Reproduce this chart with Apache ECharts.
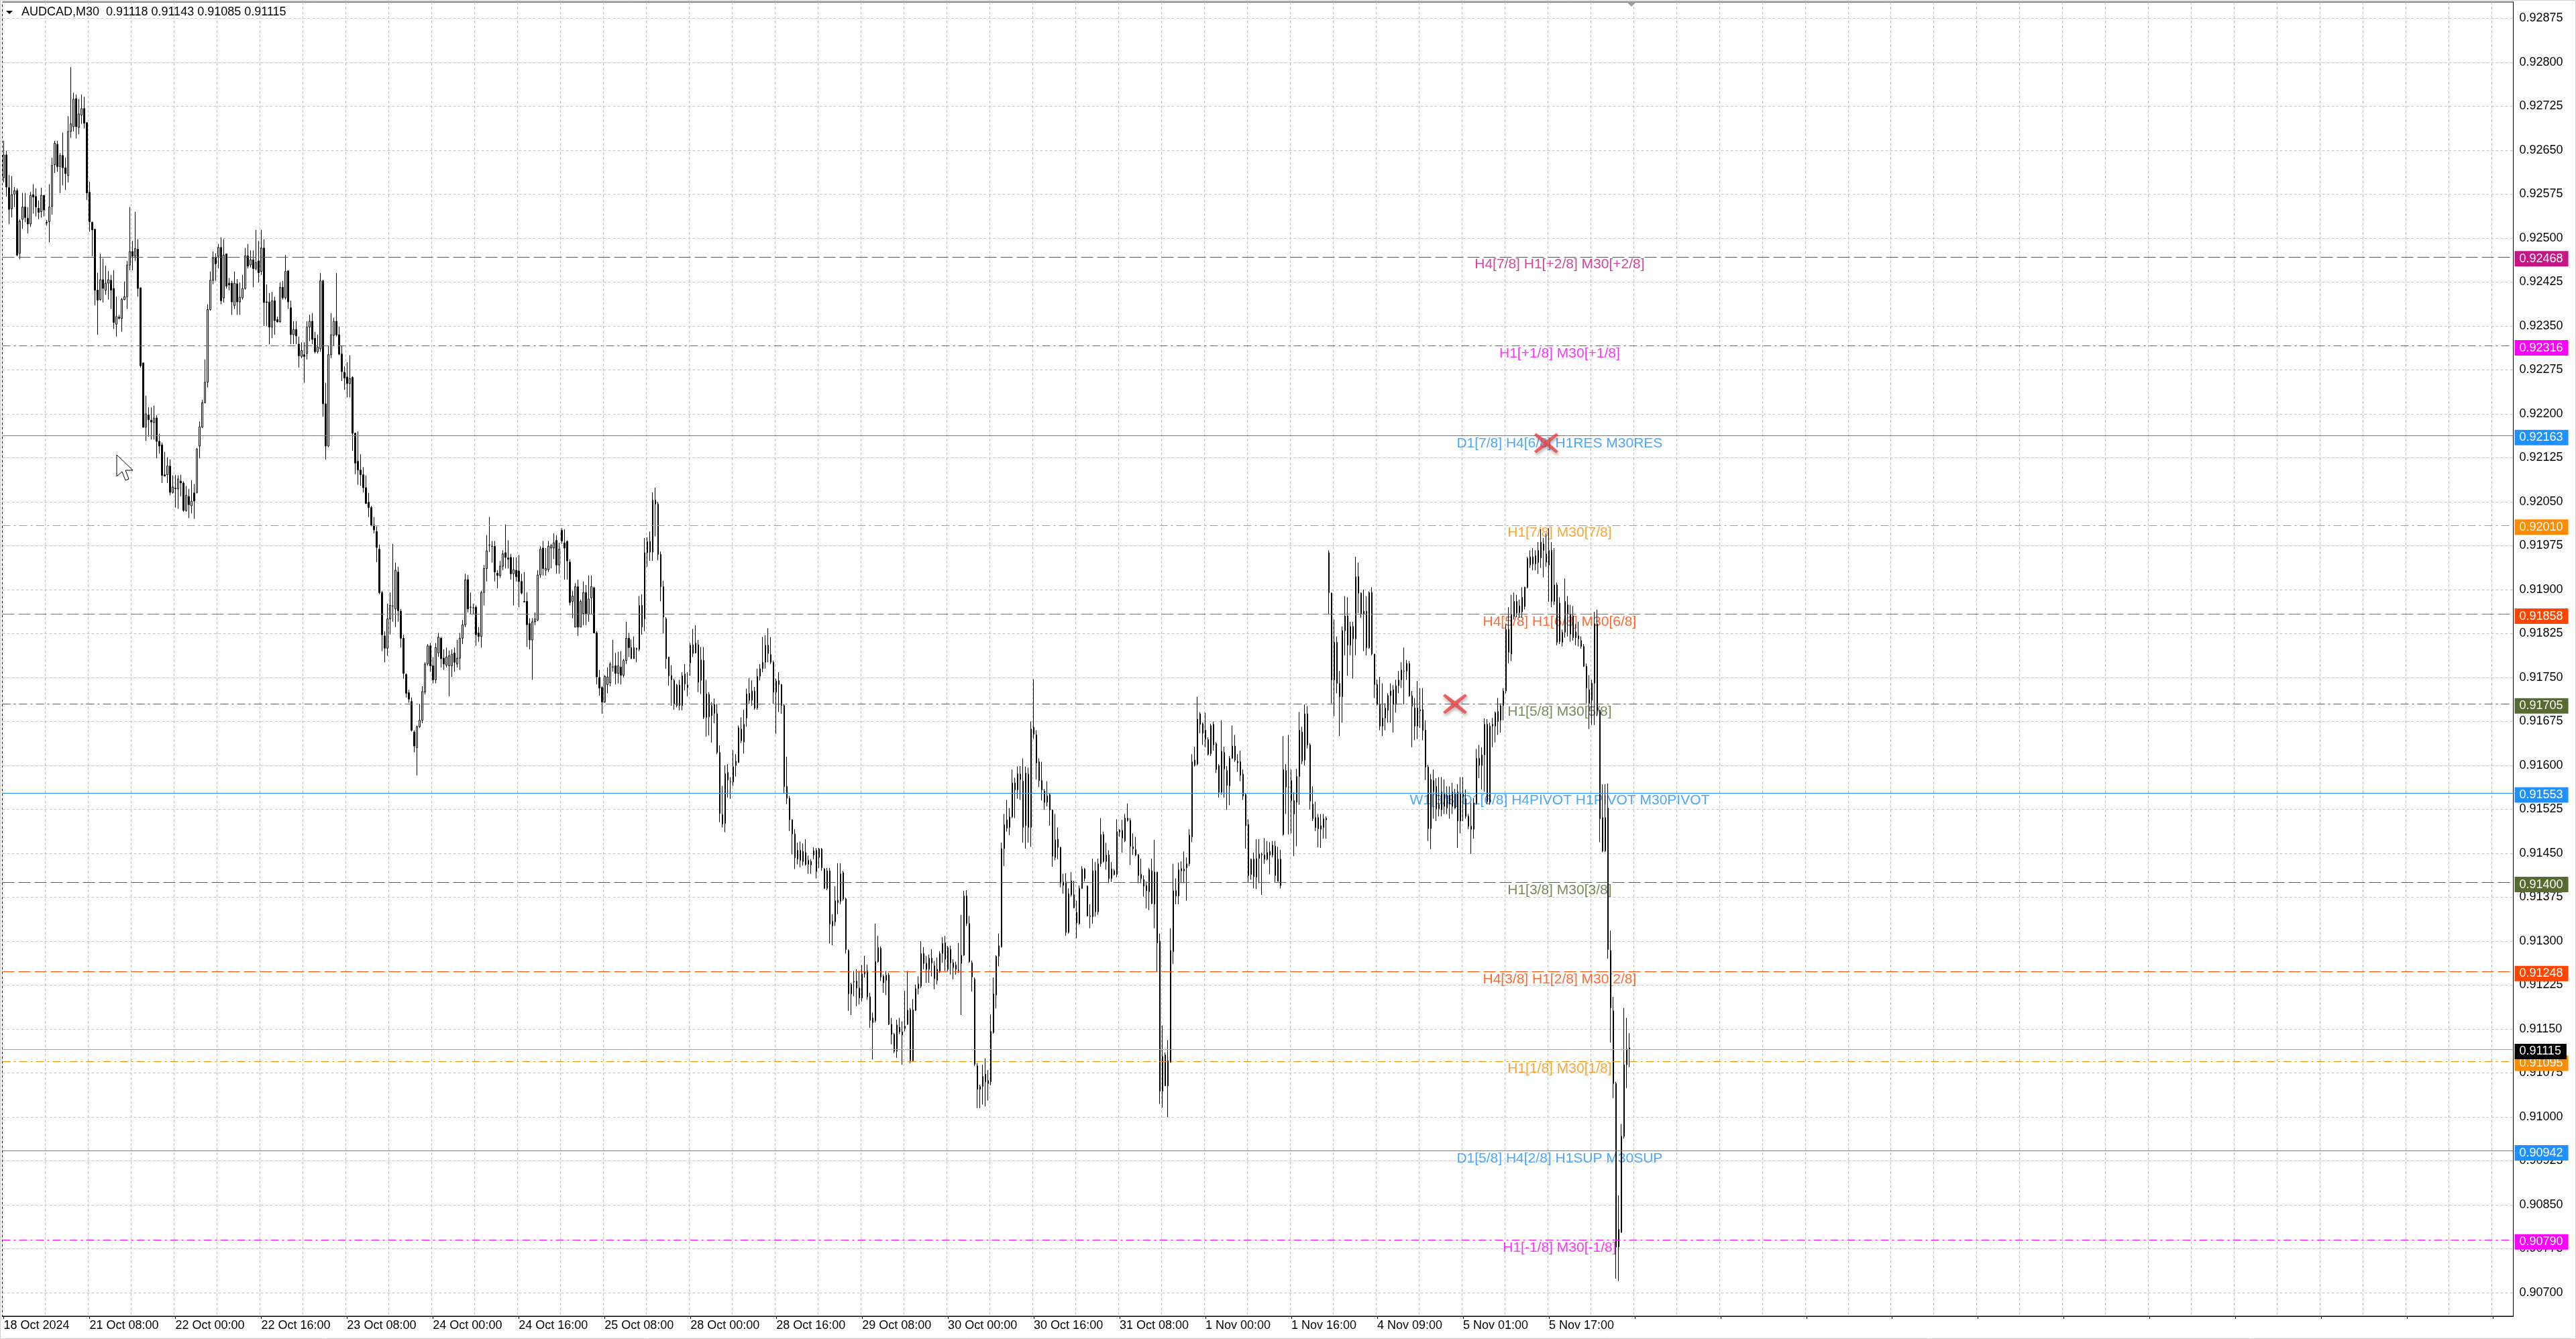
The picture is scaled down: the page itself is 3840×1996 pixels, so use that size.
<!DOCTYPE html>
<html><head><meta charset="utf-8">
<script src="https://cdn.jsdelivr.net/npm/echarts@6/dist/echarts.min.js"></script>
<style>html,body{margin:0;padding:0;background:#fff}#c{width:3840px;height:1996px}</style>
</head><body><div id="c"></div>
<script>
const SYMBOL = 'AUDCAD,M30';
const POINT = 1e-5; // prices below are stored in points: 92603 -> 0.92603
// Each bar: [open, high, low, close]
const fri18Oct = [
[92603,92666,92595,92642],[92642,92649,92571,92587],[92586,92608,92524,92549],[92550,92606,92535,92574],
[92575,92587,92553,92581],[92581,92585,92469,92471],[92474,92532,92464,92529],[92532,92577,92516,92553],
[92553,92577,92527,92535],[92534,92553,92508,92524],[92524,92579,92519,92573],[92574,92592,92542,92570],
[92571,92585,92537,92553],[92551,92564,92532,92544],[92545,92586,92535,92573],[92573,92573,92537,92548]];
const mon21Oct = [
[92527,92531,92521,92526],[92528,92592,92493,92553],[92554,92637,92540,92624],[92625,92666,92611,92662],
[92660,92666,92613,92622],[92622,92645,92577,92641],[92641,92680,92590,92620],[92620,92637,92582,92610],
[92607,92708,92595,92682],[92682,92792,92671,92695],[92690,92748,92682,92737],[92738,92745,92670,92690],
[92689,92737,92677,92712],[92710,92745,92695,92721],[92721,92741,92687,92696],[92697,92698,92565,92577],
[92578,92596,92511,92528],[92527,92528,92469,92514],[92515,92516,92385,92411],[92411,92441,92335,92394],
[92395,92473,92393,92429],[92429,92465,92390,92414],[92411,92453,92403,92423],[92423,92444,92395,92429],
[92428,92437,92379,92411],[92414,92445,92345,92356],[92353,92400,92332,92366],[92365,92369,92361,92363],
[92363,92398,92340,92395],[92395,92426,92394,92400],[92400,92461,92379,92454],[92454,92553,92445,92477],
[92477,92495,92445,92469],[92469,92545,92461,92482],[92481,92498,92400,92414],[92415,92416,92279,92282],
[92287,92287,92177,92177],[92177,92231,92154,92200],[92198,92211,92161,92190],[92189,92211,92156,92186],
[92185,92214,92156,92193],[92193,92198,92124,92153],[92153,92166,92132,92145],[92147,92151,92082,92095],
[92096,92135,92093,92094],[92096,92126,92082,92111],[92111,92122,92061,92066],[92066,92095,92064,92075]];
const tue22Oct = [
[92073,92096,92040,92072],[92072,92095,92038,92089],[92085,92096,92059,92082],[92082,92085,92033,92035],
[92035,92077,92033,92061],[92059,92072,92022,92045],[92043,92087,92030,92051],[92065,92080,92021,92051],
[92066,92142,92064,92140],[92145,92187,92124,92178],[92177,92224,92176,92219],[92219,92293,92218,92254],
[92254,92387,92245,92378],[92378,92443,92376,92428],[92428,92477,92421,92466],[92466,92474,92427,92456],
[92469,92490,92448,92484],[92484,92501,92387,92393],[92398,92498,92390,92471],[92473,92473,92414,92418],
[92423,92432,92411,92420],[92423,92427,92369,92391],[92385,92443,92379,92423],[92422,92430,92369,92391],
[92391,92424,92369,92399],[92398,92437,92395,92414],[92414,92483,92412,92470],[92470,92490,92448,92452],
[92454,92479,92450,92463],[92463,92479,92416,92448],[92448,92514,92445,92458],[92461,92495,92424,92441],
[92443,92514,92437,92483],[92483,92498,92350,92390],[92391,92421,92350,92390],[92391,92406,92319,92348],
[92348,92408,92329,92393],[92393,92400,92335,92359],[92361,92366,92356,92357],[92357,92424,92356,92416],
[92416,92427,92395,92398],[92398,92471,92395,92443],[92444,92445,92379,92391],[92381,92393,92319,92335],
[92335,92358,92319,92344],[92344,92358,92319,92333],[92319,92332,92279,92299],[92298,92322,92295,92308]];
const wed23Oct = [
[92301,92322,92253,92298],[92303,92358,92293,92348],[92348,92369,92324,92358],[92358,92372,92319,92327],
[92329,92340,92303,92306],[92306,92335,92303,92314],[92311,92440,92306,92427],[92427,92429,92195,92217],
[92217,92253,92122,92145],[92145,92316,92143,92301],[92301,92372,92295,92335],[92334,92364,92316,92358],
[92358,92440,92332,92335],[92335,92349,92300,92302],[92302,92316,92256,92272],[92271,92281,92241,92261],
[92263,92288,92228,92252],[92252,92300,92228,92260],[92262,92264,92137,92167],[92167,92168,92097,92116],
[92119,92170,92079,92104],[92104,92131,92077,92096],[92096,92109,92066,92074],[92074,92095,92046,92047],
[92049,92065,92024,92040],[92040,92043,92008,92010],[92010,92024,91996,92002],[91999,92008,91947,91972],
[91969,91977,91892,91895],[91895,91898,91795,91823],[91821,91829,91776,91800],[91800,91876,91787,91850],
[91850,91895,91823,91873],[91872,91978,91845,91872],[91867,91946,91836,91933],[91930,91939,91845,91864],
[91863,91867,91801,91817],[91817,91823,91748,91757],[91755,91757,91716,91723],[91724,91729,91707,91713],
[91709,91716,91658,91660],[91657,91660,91622,91633],[91630,91668,91583,91666],[91666,91705,91664,91677],
[91677,91735,91672,91726],[91725,91776,91721,91773],[91773,91807,91770,91804],[91804,91809,91760,91770]];
const thu24Oct = [
[91770,91785,91740,91746],[91746,91809,91740,91801],[91792,91826,91785,91819],[91817,91819,91767,91782],
[91783,91798,91763,91773],[91771,91801,91767,91785],[91770,91796,91718,91787],[91770,91798,91751,91790],
[91792,91801,91760,91776],[91773,91814,91767,91783],[91783,91826,91763,91817],[91817,91848,91807,91840],
[91840,91927,91836,91917],[91917,91925,91861,91867],[91870,91895,91858,91870],[91869,91876,91858,91869],
[91870,91873,91804,91823],[91826,91836,91811,91820],[91820,91898,91801,91895],[91895,91942,91873,91936],
[91936,91993,91914,91966],[91976,92024,91964,91976],[91974,91983,91946,91974],[91974,91983,91914,91930],
[91928,91933,91902,91924],[91924,91949,91920,91940],[91940,91967,91933,91961],[91963,92011,91936,91955],
[91954,91984,91936,91952],[91955,91961,91917,91927],[91927,91955,91873,91934],[91933,91955,91914,91922],
[91932,91959,91870,91914],[91914,91927,91892,91894],[91880,91930,91878,91879],[91880,91895,91802,91840],
[91842,91851,91798,91814],[91814,91851,91746,91845],[91845,91861,91839,91850],[91848,91933,91846,91925],
[91925,91974,91920,91969],[91971,91983,91924,91936],[91933,91971,91924,91936],[91934,91983,91930,91974],
[91971,91978,91936,91975],[91971,91996,91952,91980],[91984,91993,91927,91942],[91942,91980,91927,91969]];
const fri25Oct = [
[92001,92005,91978,91983],[91980,92003,91917,91971],[91982,91984,91917,91949],[91947,91952,91873,91878],
[91880,91898,91851,91889],[91836,91911,91836,91905],[91905,91917,91821,91836],[91836,91883,91836,91880],
[91859,91914,91839,91895],[91895,91908,91839,91858],[91858,91924,91845,91884],[91886,91924,91858,91905],
[91903,91905,91826,91826],[91826,91829,91738,91751],[91750,91763,91719,91732],[91733,91735,91688,91708],
[91708,91754,91707,91752],[91738,91767,91723,91751],[91741,91776,91735,91773],[91768,91814,91760,91768],
[91770,91792,91738,91757],[91757,91794,91740,91770],[91768,91795,91738,91754],[91754,91782,91750,91779],
[91779,91845,91773,91817],[91817,91826,91785,91801],[91801,91815,91782,91782],[91782,91820,91782,91801],
[91798,91801,91776,91800],[91798,91889,91795,91873],[91873,91892,91823,91836],[91850,91988,91829,91963],
[91963,91989,91939,91982],[91982,91999,91949,91964],[91964,92066,91949,92053],[92053,92074,91991,92046],
[92046,92050,91950,91960],[91960,91965,91880,91905],[91905,91915,91825,91853],[91850,91853,91765,91782],
[91785,91785,91736,91753],[91753,91771,91702,91746],[91745,91748,91695,91705],[91702,91739,91699,91737],
[91737,91746,91694,91702],[91702,91759,91694,91753],[91756,91773,91728,91739],[91737,91759,91718,91733]];
const mon28Oct = [
[91775,91809,91753,91805],[91791,91833,91785,91806],[91792,91839,91791,91809],[91806,91814,91725,91742],
[91745,91802,91722,91780],[91779,91802,91679,91682],[91682,91746,91649,91722],[91721,91725,91651,91683],
[91685,91708,91639,91702],[91704,91714,91672,91689],[91688,91705,91619,91622],[91622,91634,91503,91518],
[91516,91565,91494,91500],[91501,91600,91486,91586],[91588,91602,91545,91575],[91572,91580,91543,91572],
[91572,91626,91565,91598],[91600,91619,91581,91607],[91605,91668,91604,91664],[91662,91682,91638,91642],
[91640,91695,91620,91670],[91681,91731,91666,91722],[91723,91749,91705,91711],[91711,91745,91702,91727],
[91727,91734,91695,91698],[91698,91765,91695,91752],[91752,91773,91745,91765],[91765,91819,91759,91776],
[91776,91822,91765,91805],[91805,91834,91776,91791],[91789,91819,91773,91776],[91776,91779,91705,91725],
[91725,91748,91654,91744],[91745,91759,91691,91738],[91738,91739,91688,91702],[91702,91705,91552,91564],
[91564,91615,91534,91544],[91544,91548,91488,91507],[91507,91508,91448,91483],[91483,91491,91423,91442],
[91440,91468,91431,91455],[91455,91470,91426,91438],[91453,91467,91429,91436],[91451,91474,91429,91431],
[91431,91446,91415,91438],[91436,91440,91415,91430],[91454,91460,91440,91447],[91455,91459,91407,91419]];
const tue29Oct = [
[91443,91459,91425,91457],[91457,91459,91420,91425],[91423,91425,91389,91390],[91390,91425,91387,91420],
[91420,91425,91296,91329],[91326,91346,91293,91334],[91333,91394,91326,91369],[91370,91433,91346,91366],
[91368,91433,91363,91415],[91417,91420,91369,91372],[91372,91374,91279,91286],[91284,91286,91181,91210],
[91210,91229,91174,91226],[91230,91249,91206,91231],[91232,91252,91189,91220],[91220,91249,91192,91203],
[91203,91259,91197,91244],[91244,91275,91238,91248],[91249,91260,91200,91205],[91205,91212,91152,91165],
[91169,91178,91098,91161],[91164,91330,91161,91265],[91265,91309,91263,91289],[91288,91291,91232,91239],
[91240,91243,91212,91229],[91233,91249,91208,91242],[91242,91246,91157,91158],[91158,91169,91124,91141],
[91141,91143,91109,91112],[91112,91166,91101,91157],[91153,91169,91141,91145],[91145,91163,91089,91140],
[91151,91215,91146,91155],[91158,91249,91157,91182],[91183,91186,91092,91096],[91096,91201,91095,91183],
[91182,91226,91181,91219],[91219,91240,91209,91227],[91223,91300,91220,91279],[91279,91290,91252,91262],
[91262,91275,91229,91252],[91252,91277,91229,91271],[91271,91286,91240,91263],[91258,91266,91218,91236],
[91233,91272,91226,91252],[91249,91283,91246,91279],[91279,91307,91263,91296],[91297,91309,91249,91269]];
const wed30Oct = [
[91252,91292,91249,91289],[91286,91292,91243,91263],[91263,91269,91235,91255],[91259,91265,91243,91252],
[91250,91297,91246,91250],[91262,91345,91174,91276],[91276,91386,91275,91377],[91377,91387,91326,91330],
[91330,91343,91263,91265],[91263,91267,91214,91239],[91235,91238,91087,91090],[91087,91092,91015,91047],
[91047,91055,91015,91052],[91052,91089,91021,91069],[91073,91100,91018,91060],[91062,91080,91028,91057],
[91060,91175,91054,91146],[91144,91238,91142,91210],[91208,91276,91185,91274],[91274,91313,91257,91292],
[91290,91468,91289,91458],[91458,91517,91428,91499],[91507,91541,91487,91493],[91494,91527,91481,91512],
[91512,91593,91510,91570],[91570,91579,91510,91558],[91558,91598,91543,91586],[91576,91599,91541,91585],
[91573,91612,91468,91494],[91497,91598,91458,91587],[91585,91596,91468,91494],[91494,91675,91461,91662],
[91665,91747,91645,91653],[91652,91660,91576,91604],[91606,91612,91563,91574],[91574,91606,91540,91558],
[91556,91560,91524,91537],[91537,91573,91530,91548],[91550,91553,91497,91524],[91524,91524,91427,91445],
[91443,91517,91438,91473],[91474,91494,91440,91460],[91460,91461,91392,91399],[91395,91415,91381,91401],
[91401,91416,91309,91315],[91315,91390,91313,91381],[91403,91418,91376,91379],[91379,91403,91356,91357]];
const thu31Oct = [
[91349,91369,91305,91331],[91330,91395,91328,91390],[91390,91428,91389,91423],[91423,91425,91402,91407],
[91394,91395,91342,91343],[91342,91363,91322,91343],[91342,91441,91330,91420],[91420,91435,91342,91350],
[91350,91441,91345,91432],[91432,91510,91427,91482],[91482,91487,91434,91436],[91436,91468,91422,91447],
[91447,91455,91399,91407],[91407,91435,91401,91423],[91420,91423,91412,91414],[91414,91508,91409,91487],
[91486,91491,91478,91489],[91489,91507,91451,91476],[91471,91517,91469,91510],[91510,91535,91504,91506],
[91506,91510,91430,91462],[91461,91484,91447,91458],[91456,91478,91445,91447],[91447,91449,91399,91412],
[91414,91441,91399,91407],[91405,91412,91376,91394],[91395,91402,91356,91386],[91384,91425,91353,91422],
[91420,91441,91363,91364],[91363,91473,91322,91418],[91418,91418,91248,91297],[91300,91313,91022,91044],
[91044,91156,91016,91103],[91106,91110,91053,91053],[91053,91131,91000,91096],[91093,91322,91093,91284],
[91282,91432,91261,91386],[91386,91407,91363,91377],[91377,91434,91363,91422],[91420,91436,91400,91424],
[91420,91453,91399,91423],[91425,91443,91369,91432],[91432,91491,91428,91481],[91478,91619,91469,91606],
[91600,91632,91598,91609],[91602,91717,91600,91679],[91688,91691,91655,91670],[91671,91673,91635,91655]];
const fri1Nov = [
[91660,91690,91631,91645],[91644,91648,91617,91619],[91620,91671,91616,91668],[91670,91675,91625,91635],
[91637,91640,91587,91593],[91599,91602,91545,91554],[91554,91677,91550,91624],[91622,91632,91545,91594],
[91591,91599,91524,91566],[91565,91616,91532,91612],[91612,91668,91611,91633],[91633,91652,91606,91609],
[91604,91619,91589,91607],[91606,91625,91573,91583],[91585,91593,91541,91548],[91550,91553,91458,91497],
[91499,91508,91401,91412],[91414,91441,91405,91440],[91440,91451,91390,91410],[91409,91474,91389,91441],
[91441,91474,91399,91449],[91447,91451,91379,91448],[91447,91476,91432,91440],[91440,91471,91438,91451],
[91453,91469,91414,91447],[91447,91471,91443,91464],[91462,91471,91401,91412],[91402,91461,91402,91440],
[91440,91456,91390,91395],[91482,91650,91480,91593],[91591,91602,91517,91563],[91563,91652,91482,91563],
[91574,91593,91484,91540],[91540,91554,91445,91517],[91537,91594,91462,91581],[91581,91691,91533,91660],
[91657,91666,91602,91607],[91609,91704,91600,91688],[91688,91701,91629,91635],[91635,91638,91525,91539],
[91534,91564,91505,91509],[91511,91538,91488,91494],[91511,91517,91460,91492],[91491,91517,91459,91497],
[91494,91517,91475,91509],[91507,91513,91475,91510]];
const mon4Nov = [
[91963,91967,91858,91895],[91894,91895,91706,91746],[91746,91849,91684,91810],[91810,91820,91723,91740],
[91740,91761,91650,91717],[91717,91837,91673,91830],[91830,91889,91788,91855],[91855,91887,91753,91805],
[91805,91845,91788,91837],[91837,91845,91748,91816],[91816,91956,91788,91922],[91922,91946,91860,91894],
[91894,91895,91852,91858],[91858,91900,91795,91863],[91863,91889,91788,91801],[91801,91897,91799,91895],
[91895,91904,91788,91790],[91790,91790,91715,91738],[91738,91746,91702,91704],[91704,91751,91660,91667],
[91667,91740,91650,91681],[91681,91706,91660,91698],[91694,91723,91673,91719],[91719,91740,91673,91727],
[91729,91737,91656,91704],[91704,91746,91690,91736],[91736,91761,91723,91746],[91746,91776,91732,91763],
[91761,91801,91704,91761],[91761,91780,91746,91774],[91774,91778,91717,91719],[91719,91727,91631,91701],
[91698,91715,91643,91667],[91667,91744,91645,91698],[91693,91732,91664,91695],[91695,91732,91643,91660],
[91660,91677,91575,91597],[91597,91601,91471,91492],[91492,91585,91457,91576],[91574,91593,91509,91555],
[91564,91578,91505,91526],[91526,91580,91513,91533],[91524,91580,91513,91555],[91551,91576,91517,91530],
[91527,91564,91517,91549],[91549,91564,91509,91534],[91530,91570,91517,91555],[91527,91560,91526,91553]];
const tue5Nov = [
[91555,91568,91459,91505],[91505,91580,91484,91553],[91547,91580,91505,91551],[91543,91559,91509,91513],
[91513,91517,91491,91496],[91496,91536,91449,91491],[91491,91544,91475,91536],[91536,91628,91533,91612],
[91612,91635,91578,91600],[91600,91631,91559,91618],[91618,91680,91555,91670],[91670,91679,91534,91538],
[91538,91673,91533,91667],[91667,91681,91631,91670],[91667,91692,91639,91690],[91692,91715,91652,91675],
[91677,91706,91656,91702],[91702,91732,91677,91727],[91727,91841,91723,91832],[91832,91870,91774,91793],
[91790,91891,91778,91858],[91854,91895,91849,91880],[91880,91891,91853,91860],[91860,91883,91852,91872],
[91862,91904,91852,91887],[91871,91905,91866,91904],[91904,91956,91902,91953],[91942,91967,91937,91956],
[91956,91971,91933,91944],[91944,91967,91933,91958],[91946,91981,91927,91967],[91954,92003,91937,91981],
[91967,91988,91921,91978],[91961,91996,91939,91947],[91942,92005,91879,91967],[91967,91981,91870,91880],
[91880,91971,91874,91908],[91908,91912,91805,91810],[91877,91887,91807,91811],[91810,91832,91803,91827],
[91827,91919,91818,91880],[91874,91889,91820,91858],[91858,91874,91811,91824],[91855,91872,91813,91818],
[91828,91841,91805,91818],[91821,91845,91803,91816],[91813,91820,91799,91803],[91803,91807,91768,91769]];
const wed6Nov = [
[91769,91774,91706,91732],[91729,91754,91662,91706],[91711,91746,91669,91740],[91740,91862,91669,91841],
[91841,91866,91684,91694],[91694,91695,91469,91509],[91511,91568,91452,91454],[91454,91568,91452,91511],
[91527,91569,91270,91286],[91284,91318,91127,91186],[91181,91205,91032,91057],[91057,91060,90724,90778],
[90778,90866,90720,90808],[90803,90988,90802,90967],[90967,91186,90963,91089],[91089,91169,91049,91116],
[91118,91143,91085,91115]];

// x-axis labels, one every 32 bars (16 hours of M30 bars)
const xTickLabels = ['18 Oct 2024','21 Oct 08:00','22 Oct 00:00','22 Oct 16:00','23 Oct 08:00','24 Oct 00:00',
 '24 Oct 16:00','25 Oct 08:00','28 Oct 00:00','28 Oct 16:00','29 Oct 08:00','30 Oct 00:00','30 Oct 16:00',
 '31 Oct 08:00','1 Nov 00:00','1 Nov 16:00','4 Nov 09:00','5 Nov 01:00','5 Nov 17:00'];
const yTicks = [0.90700,0.90775,0.90850,0.90925,0.91000,0.91075,0.91150,0.91225,0.91300,0.91375,0.91450,
 0.91525,0.91600,0.91675,0.91750,0.91825,0.91900,0.91975,0.92050,0.92125,0.92200,0.92275,0.92350,0.92425,
 0.92500,0.92575,0.92650,0.92725,0.92800,0.92875];
const yMin = 0.906599, yMax = 0.929029;

// Murrey-math style levels
const levelPrices = [92468, 92316, 92163, 92010, 91858, 91705, 91553, 91400, 91248, 91095, 90942, 90790];
const levelNames = ['H4[7/8] H1[+2/8] M30[+2/8]','H1[+1/8] M30[+1/8]','D1[7/8] H4[6/8] H1RES M30RES',
 'H1[7/8] M30[7/8]','H4[5/8] H1[6/8] M30[6/8]','H1[5/8] M30[5/8]','W1[3/8] D1[6/8] H4PIVOT H1PIVOT M30PIVOT',
 'H1[3/8] M30[3/8]','H4[3/8] H1[2/8] M30[2/8]','H1[1/8] M30[1/8]','D1[5/8] H4[2/8] H1SUP M30SUP','H1[-1/8] M30[-1/8]'];
const levelColors = ['#C71585','#FF00FF','#1E90FF','#FF8C00','#FF4500','#556B2F','#1E90FF','#556B2F',
 '#FF4500','#FF8C00','#1E90FF','#FF00FF'];
const levelStyles = ['dash','dashdot','solid','dashdot','dash','dashdot','solid','dash','dash','dashdot','solid','dashdot'];
const levelTextBar = 580;
const bidPrice = 91115;
const crossMarks = [[541, 0.91705], [575, 0.92150]];

const FONT = '"Liberation Sans", Arial, sans-serif';
const allBars = [].concat(fri18Oct, mon21Oct, tue22Oct, wed23Oct, thu24Oct, fri25Oct, mon28Oct, tue29Oct,
  wed30Oct, thu31Oct, fri1Nov, mon4Nov, tue5Nov, wed6Nov);
const N_SLOTS = 936;
const cats = [];
for (let i = 0; i < N_SLOTS; i++) cats.push(String(i));

const candleData = allBars.map(b => {
  const o = b[0] * POINT, h = b[1] * POINT, l = b[2] * POINT, c = b[3] * POINT;
  return [o, c, Math.min(l, o, c), Math.max(h, o, c)];
});
const dashMap = {dash: [18, 6], dashdot: [12, 5, 3, 5], solid: 'solid'};

const last = allBars[allBars.length - 1];
const fmt = p => (p * POINT).toFixed(5);
const headerText = SYMBOL + '  ' + fmt(last[0]) + ' ' + fmt(last[1]) + ' ' + fmt(last[2]) + ' ' + fmt(last[3]);

const markData = levelPrices.map((p, i) => ({
  yAxis: p * POINT,
  lineStyle: {color: levelColors[i], type: dashMap[levelStyles[i]], width: 1},
  label: {backgroundColor: levelColors[i]}
}));
markData.push({yAxis: bidPrice * POINT, lineStyle: {color: '#A8A8A8', type: 'solid', width: 1},
  label: {backgroundColor: '#000000'}});

const chart = echarts.init(document.getElementById('c'), null, {renderer: 'canvas'});
chart.setOption({
  animation: false,
  backgroundColor: '#ffffff',
  grid: {left: 3.5, right: 93.5, top: 3, bottom: 34, show: true, borderColor: '#000', borderWidth: 1, backgroundColor: 'transparent'},
  xAxis: {
    type: 'category', data: cats, boundaryGap: true,
    axisLine: {show: true, lineStyle: {color: '#000', width: 1}},
    axisTick: {show: true, alignWithLabel: true, length: 4, interval: i => i % 32 === 0, lineStyle: {color: '#000'}},
    axisLabel: {show: true, interval: i => i % 32 === 0 && (i / 32) < xTickLabels.length,
      formatter: (v, i) => xTickLabels[i / 32] || '', align: 'left', margin: 5,
      color: '#000', fontSize: 18, fontFamily: FONT},
    splitLine: {show: true, interval: i => i % 16 === 0, lineStyle: {color: '#C4C4C4', type: [4, 3], width: 1}}
  },
  yAxis: {
    type: 'value', position: 'right', min: yMin, max: yMax, scale: true,
    axisLine: {show: true, lineStyle: {color: '#000', width: 1}},
    axisTick: {show: false, customValues: yTicks},
    axisLabel: {show: true, customValues: yTicks, formatter: v => v.toFixed(5), margin: 9,
      color: '#000', fontSize: 18, fontFamily: FONT},
    splitLine: {show: true, lineStyle: {color: '#C4C4C4', type: [4, 3], width: 1}}
  },
  series: [
    {
      type: 'scatter', name: 'levels', z: 1, silent: true, symbolSize: 0,
      data: levelPrices.map((p, i) => ({value: [levelTextBar, p * POINT],
        label: {color: levelColors[i], formatter: levelNames[i]}})),
      label: {show: true, position: 'bottom', distance: 1, fontSize: 21, fontFamily: FONT},
      markLine: {
        silent: true, symbol: ['none', 'none'], animation: false, precision: 5,
        label: {show: true, position: 'end', distance: 2, offset: [0, 3], color: '#fff', fontSize: 18, fontFamily: FONT,
          padding: [3, 8, 2, 7], formatter: pr => Number(pr.value).toFixed(5)},
        data: markData
      }
    },
    {
      type: 'candlestick', name: SYMBOL, z: 3, large: false, barWidth: 2, silent: true,
      data: candleData,
      itemStyle: {color: '#ffffff', color0: '#000000', borderColor: '#000000', borderColor0: '#000000', borderWidth: 1}
    },
    {
      type: 'scatter', name: 'marks', z: 5, silent: true,
      symbol: 'path://M3,0 L18,11 L33,0 L36,3 L22,15 L36,27 L33,30 L18,19 L3,30 L0,27 L14,15 L0,3 Z',
      symbolSize: [36, 30],
      itemStyle: {color: '#EE4040', shadowBlur: 4, shadowColor: 'rgba(0,0,0,0.4)', shadowOffsetX: 1, shadowOffsetY: 3},
      data: crossMarks
    }
  ],
  graphic: [
    {type: 'polygon', shape: {points: [[9, 16], [19, 16], [14, 21]]}, style: {fill: '#000'}, z: 10},
    {type: 'text', x: 32, y: 9, style: {text: headerText, fontSize: 18, fontFamily: FONT, fill: '#000'}, z: 10},
    {type: 'polygon', shape: {points: [[2425, 3], [2439, 3], [2432, 10]]}, style: {fill: '#A0A0A0'}, z: 10},
    {type: 'polygon', shape: {points: [[174, 678], [174, 710], [182, 703], [187, 716], [192, 714], [187, 701], [198, 701]]},
      style: {fill: '#fff', stroke: '#000', lineWidth: 1}, z: 10},
    {type: 'rect', shape: {x: 0.5, y: 0.5, width: 3839, height: 1995}, style: {fill: 'none', stroke: '#D0D0D0', lineWidth: 1}, z: 0}
  ]
});
</script></body></html>
